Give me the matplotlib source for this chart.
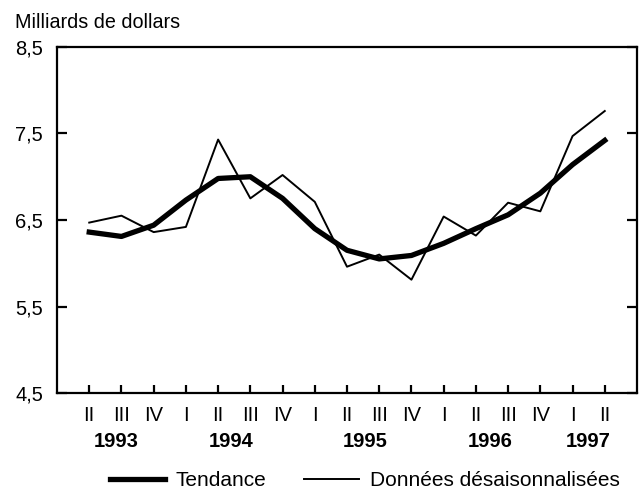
import numpy as np
import matplotlib
matplotlib.use("Agg")
import matplotlib.pyplot as plt

plt.rcParams['font.family'] = ['Liberation Sans', 'DejaVu Sans']

# Quarterly data, 1993 Q2 - 1997 Q2
quarters = ["II", "III", "IV", "I", "II", "III", "IV", "I", "II", "III", "IV",
            "I", "II", "III", "IV", "I", "II"]
years = ["1993", "1994", "1995", "1996", "1997"]
year_centers = [0.85, 4.4, 8.55, 12.45, 15.5]
tendance = [6.36, 6.31, 6.44, 6.73, 6.98, 7.00, 6.75, 6.40, 6.15, 6.05, 6.09,
            6.23, 6.40, 6.56, 6.81, 7.14, 7.42]
desais = [6.47, 6.55, 6.36, 6.42, 7.43, 6.75, 7.02, 6.71, 5.96, 6.10, 5.81,
          6.54, 6.32, 6.70, 6.60, 7.47, 7.76]
yticks = [4.5, 5.5, 6.5, 7.5, 8.5]

x = np.arange(len(quarters))

fig = plt.figure(figsize=(6.42, 4.92), dpi=100)
ax = fig.add_axes([0.0888, 0.2012, 0.9034, 0.7033])

ax.plot(x, tendance, color='black', lw=3.8, solid_joinstyle='round', label='Tendance')
ax.plot(x, desais, color='black', lw=1.4, label='Données désaisonnalisées')

ax.set_xlim(-1, 17)
ax.set_ylim(4.5, 8.5)
for s in ax.spines.values():
    s.set_linewidth(1.6)

ax.set_yticks(yticks)
ax.set_yticklabels([f"{v:.1f}".replace('.', ',') for v in yticks], fontsize=14.5)
ax.tick_params(axis='y', direction='in', length=7, width=1.6, pad=10,
               left=True, right=True)

ax.set_xticks(x)
ax.set_xticklabels([])
ax.set_xticks([3, 7, 11, 15], minor=True)
ax.tick_params(axis='x', which='major', direction='in', length=6, width=1.6)
ax.tick_params(axis='x', which='minor', direction='in', length=10, width=1.6)

for xi, q in zip(x, quarters):
    ax.annotate(q, xy=(xi, 0), xycoords=('data', 'axes fraction'),
                xytext=(0, -16.5), textcoords='offset points',
                ha='center', va='center', fontsize=14.5)
for xc, yr in zip(year_centers, years):
    ax.annotate(yr, xy=(xc, 0), xycoords=('data', 'axes fraction'),
                xytext=(0, -35), textcoords='offset points',
                ha='center', va='center', fontsize=14.5, fontweight='bold')

fig.text(15 / 642, 1 - 22 / 492, "Milliards de dollars", fontsize=14.2,
         ha='left', va='center')

fig.legend(loc='center', bbox_to_anchor=(0.568, 1 - 481 / 492), ncol=2,
           frameon=False, fontsize=15, handlelength=2.64, handletextpad=0.53,
           columnspacing=1.78)

fig.savefig("out.png", dpi=100)
